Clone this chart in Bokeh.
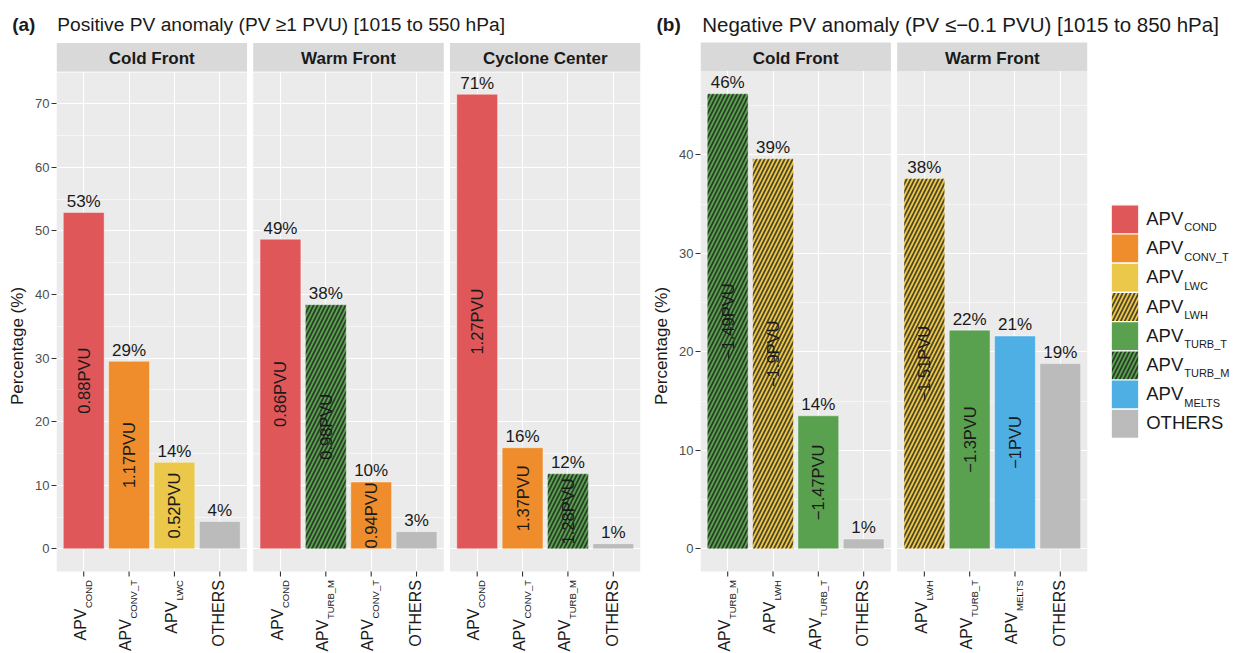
import math
from bokeh.plotting import figure
from bokeh.layouts import row, column
from bokeh.models import (FactorRange, Range1d, ColumnDataSource, FixedTicker,
                          Grid, CategoricalTicker)
from bokeh.core.properties import value
from bokeh.embed import file_html
from bokeh.resources import INLINE

# ---------------------------------------------------------------- data
a_tag = "(a)"
a_title = "Positive PV anomaly (PV \u22651 PVU) [1015 to 550 hPa]"
a_facets = ["Cold Front", "Warm Front", "Cyclone Center"]
a_sources = [["COND", "CONV_T", "LWC", "OTHERS"],
             ["COND", "TURB_M", "CONV_T", "OTHERS"],
             ["COND", "CONV_T", "TURB_M", "OTHERS"]]
a_percent = [[52.9, 29.5, 13.6, 4.3],
             [48.7, 38.4, 10.5, 2.7],
             [71.5, 15.9, 11.8, 0.8]]
a_percent_labels = [["53%", "29%", "14%", "4%"],
                    ["49%", "38%", "10%", "3%"],
                    ["71%", "16%", "12%", "1%"]]
a_pvu = [["0.88PVU", "1.17PVU", "0.52PVU", ""],
         ["0.86PVU", "0.98PVU", "0.94PVU", ""],
         ["1.27PVU", "1.37PVU", "1.28PVU", ""]]
a_yticks = [0, 10, 20, 30, 40, 50, 60, 70]

b_tag = "(b)"
b_title = "Negative PV anomaly (PV \u2264\u22120.1 PVU) [1015 to 850 hPa]"
b_facets = ["Cold Front", "Warm Front"]
b_sources = [["TURB_M", "LWH", "TURB_T", "OTHERS"],
             ["LWH", "TURB_T", "MELTS", "OTHERS"]]
b_percent = [[46.2, 39.6, 13.5, 1.0],
             [37.6, 22.2, 21.6, 18.8]]
b_percent_labels = [["46%", "39%", "14%", "1%"],
                    ["38%", "22%", "21%", "19%"]]
b_pvu = [["\u22121.49PVU", "\u22121.9PVU", "\u22121.47PVU", ""],
         ["\u22121.51PVU", "\u22121.3PVU", "\u22121PVU", ""]]
b_yticks = [0, 10, 20, 30, 40]

y_axis_title = "Percentage (%)"
legend_sources = ["COND", "CONV_T", "LWC", "LWH", "TURB_T", "TURB_M", "MELTS", "OTHERS"]

# ---------------------------------------------------------------- style
FONT = "Liberation Sans"
COLORS = {"COND": "#E05759", "CONV_T": "#EF8C2C", "LWC": "#EBC74A",
          "LWH": "#EBC74A", "TURB_T": "#59A14F", "TURB_M": "#59A14F",
          "MELTS": "#4EAFE5", "OTHERS": "#BBBBBB"}
HATCHED = {"LWH", "TURB_M"}
PANEL_BG = "#EBEBEB"
STRIP_BG = "#D9D9D9"
TXT = "#1A1A1A"
HATCH = dict(hatch_color="#1A1A1A", hatch_alpha=0.75, hatch_scale=8,
             hatch_weight=1.7)

TOTAL_W, TOTAL_H = 1244, 653
TH = 38                       # height of the title strip
PH = TOTAL_H - TH             # height of the panel figures
ZERO = 548.3 - TH             # screen row of value 0 inside panel figures
STRIP_PX = 28.5
GAP = 8.5                     # panel bottom -> top of x labels
SUB_SIZE = 9.5
XLAB_SIZE = 16

WA, BLA, BRA = 646, 56, 6     # panel (a) figure width / borders
WB, BLB, BRB = 449, 54, 8     # panel (b)
WL = TOTAL_W - WA - WB        # legend

ARIAL = {"A": .667, "B": .667, "C": .722, "D": .722, "E": .667, "F": .611,
         "G": .778, "H": .722, "I": .278, "J": .5, "K": .667, "L": .556,
         "M": .833, "N": .722, "O": .778, "P": .667, "Q": .778, "R": .722,
         "S": .667, "T": .611, "U": .722, "V": .667, "W": .944, "X": .667,
         "Y": .667, "Z": .611, "_": .556}


def text_w(s, size):
    return sum(ARIAL.get(c, .6) for c in s) * size


def hatch_of(s):
    return "/" if s in HATCHED else "blank"


def blank_fig(w, h, xr, yr):
    p = figure(width=w, height=h, x_range=xr, y_range=yr,
               x_axis_location=None, y_axis_location=None,
               title_location=None, toolbar_location=None,
               output_backend="svg", min_border_left=0, min_border_right=0,
               min_border_top=0, min_border_bottom=0,
               background_fill_color="white", border_fill_color="white",
               outline_line_color=None)
    p.xgrid.visible = False
    p.ygrid.visible = False
    return p


def make_panel(facets, sources, pct, pct_labels, pvu, yticks,
               pxu_y, group_pad, fig_w, border_l, border_r):
    px = 1.0 / pxu_y          # one screen pixel in data units
    factors = [(f, s) for f, ss in zip(facets, sources) for s in ss]
    x_range = FactorRange(factors=factors, factor_padding=0,
                          group_padding=group_pad, range_padding=0.1,
                          range_padding_units="absolute")
    y_range = Range1d(-(PH - ZERO) * px, ZERO * px)
    p = figure(width=fig_w, height=PH, x_range=x_range, y_range=y_range,
               x_axis_location=None, y_axis_location="left",
               title_location=None,
               toolbar_location=None, output_backend="svg",
               min_border_left=border_l, min_border_right=border_r,
               min_border_top=0, min_border_bottom=0,
               background_fill_color="white", border_fill_color="white",
               outline_line_color=None)
    ymax = max(max(v) for v in pct)
    lo, hi = -0.05 * ymax, 1.05 * ymax

    # panel backgrounds and strips
    bg = ColumnDataSource(dict(
        left=[(f, ss[0], -0.6) for f, ss in zip(facets, sources)],
        right=[(f, ss[-1], 0.6) for f, ss in zip(facets, sources)],
        mid=[(f, ss[1], 0.5) for f, ss in zip(facets, sources)],
        name=facets))
    p.quad(left="left", right="right", bottom=lo, top=hi, source=bg,
           fill_color=PANEL_BG, line_color=None, level="image")
    p.quad(left="left", right="right", bottom=hi, top=hi + STRIP_PX * px,
           source=bg, fill_color=STRIP_BG, line_color=None)
    p.text(x="mid", y=hi + 12.6 * px, text="name", source=bg,
           text_align="center", text_baseline="middle",
           text_font=value(FONT), text_font_style="bold",
           text_font_size="17px", text_color=TXT)

    # grids
    p.xgrid.visible = False
    p.add_layout(Grid(dimension=0, ticker=CategoricalTicker(),
                      grid_line_color="white", grid_line_width=1.1))
    p.yaxis.ticker = FixedTicker(ticks=yticks,
                                 minor_ticks=[t + 5 for t in yticks])
    p.ygrid.grid_line_color = "white"
    p.ygrid.grid_line_width = 1.1
    p.ygrid.minor_grid_line_color = "white"
    p.ygrid.minor_grid_line_width = 0.55

    # y axis
    ax = p.yaxis[0]
    ax.axis_label = y_axis_title
    ax.axis_label_text_font = FONT
    ax.axis_label_text_font_size = "17px"
    ax.axis_label_text_font_style = "normal"
    ax.axis_label_text_color = TXT
    ax.axis_label_standoff = 5
    ax.major_label_text_font = FONT
    ax.major_label_text_font_size = "13px"
    ax.major_label_text_color = "#4D4D4D"
    ax.major_label_standoff = 2
    ax.major_tick_out = 5
    ax.major_tick_in = 0
    ax.major_tick_line_color = "#333333"
    ax.major_tick_line_width = 1.1
    ax.minor_tick_line_color = None
    ax.axis_line_color = None

    # bars
    xs, tops, cols, hatches, plabs, pvus, mids, ptop = [], [], [], [], [], [], [], []
    for f, ss, vv, ll, pp in zip(facets, sources, pct, pct_labels, pvu):
        for s, v, l, u in zip(ss, vv, ll, pp):
            xs.append((f, s)); tops.append(v); cols.append(COLORS[s])
            hatches.append(hatch_of(s)); plabs.append(l); pvus.append(u)
            mids.append(v / 2); ptop.append(v + 11.1 * px)
    src = ColumnDataSource(dict(x=xs, top=tops, color=cols, hatch=hatches,
                                plab=plabs, pvu=pvus, mid=mids, ptop=ptop))
    p.vbar(x="x", top="top", bottom=0, width=0.9, source=src,
           fill_color="color", line_color="white", line_width=0.6,
           line_alpha=0.7, hatch_pattern="hatch", **HATCH)
    p.text(x="x", y="ptop", text="plab", source=src,
           text_align="center", text_baseline="middle",
           text_font=value(FONT), text_font_size="17px", text_color=TXT)
    p.text(x="x", y="mid", text="pvu", source=src, angle=math.pi / 2,
           text_align="center", text_baseline="middle",
           text_font=value(FONT), text_font_size="16.5px", text_color=TXT)

    # x ticks and labels
    p.segment(x0="x", y0=lo, x1="x", y1=lo - 5 * px, source=src,
              line_color="#333333", line_width=1.1)
    mains, subs, my, sy, mxo, sxo = [], [], [], [], [], []
    for x in xs:
        s = x[1]
        if s == "OTHERS":
            mains.append("OTHERS"); subs.append("")
            my.append(lo - GAP * px); mxo.append(-1.0)
        else:
            mains.append("APV"); subs.append(s)
            my.append(lo - (GAP + text_w(s, SUB_SIZE) + 0.5) * px)
            mxo.append(-3.3)
        sy.append(lo - GAP * px); sxo.append(4.7)
    lab = ColumnDataSource(dict(x=xs, main=mains, sub=subs, my=my, sy=sy,
                                mxo=mxo, sxo=sxo))
    p.text(x="x", y="my", text="main", source=lab, angle=math.pi / 2,
           x_offset="mxo", text_align="right",
           text_baseline="middle", text_font=value(FONT),
           text_font_size=f"{XLAB_SIZE}px", text_color=TXT)
    p.text(x="x", y="sy", text="sub", source=lab, angle=math.pi / 2,
           x_offset="sxo", text_align="right",
           text_baseline="middle", text_font=value(FONT),
           text_font_size=f"{SUB_SIZE}px", text_color=TXT)
    return p


# ---------------------------------------------------------------- titles
pt = blank_fig(TOTAL_W, TH, Range1d(0, TOTAL_W), Range1d(0, TH))
MID = TH - 24.2                   # title centre line, counted from the bottom
pt.text(x=[11.7, 656.0], y=[MID, MID], text=[a_tag, b_tag],
        text_align="left", text_baseline="middle",
        text_font=value(FONT), text_font_style="bold",
        text_font_size="19px", text_color=TXT)
pt.text(x=[56.7], y=[MID], text=[a_title], text_align="left",
        text_baseline="middle", text_font=value(FONT),
        text_font_size="19.2px", text_color=TXT)
pt.text(x=[701.7], y=[MID], text=[b_title], text_align="left",
        text_baseline="middle", text_font=value(FONT),
        text_font_size="20.5px", text_color=TXT)

# ---------------------------------------------------------------- panels
pa = make_panel(a_facets, a_sources, a_percent, a_percent_labels, a_pvu,
                a_yticks, 6.357, 0.337, WA, BLA, BRA)
pb = make_panel(b_facets, b_sources, b_percent, b_percent_labels, b_pvu,
                b_yticks, 9.85, 0.339, WB, BLB, BRB)

# ---------------------------------------------------------------- legend
ROW_PX = 29.2
LEG_TOP = 204.3 - TH              # top of first key
n_leg = len(legend_sources)
rows_below = (PH - LEG_TOP - n_leg * ROW_PX) / ROW_PX
rows_above = LEG_TOP / ROW_PX
pl = blank_fig(WL, PH, Range1d(0, WL),
               Range1d(-rows_below, n_leg + rows_above))
rows = [n_leg - i - 0.5 for i in range(n_leg)]
lsrc = ColumnDataSource(dict(
    name=legend_sources,
    row=rows,
    mrow=[r + 1.0 / ROW_PX for r in rows],
    srow=[r - 7.9 / ROW_PX for r in rows],
    color=[COLORS[s] for s in legend_sources],
    hatch=[hatch_of(s) for s in legend_sources],
    main=["OTHERS" if s == "OTHERS" else "APV" for s in legend_sources],
    sub=["" if s == "OTHERS" else s for s in legend_sources]))
pl.rect(x=29.5, y="row", width=27.6, height=1, source=lsrc,
        fill_color="color", line_color="white", line_width=1.2,
        hatch_pattern="hatch", **HATCH)
pl.text(x=50.7, y="mrow", text="main", source=lsrc,
        text_align="left", text_baseline="middle",
        text_font=value(FONT), text_font_size="18.5px", text_color=TXT)
pl.text(x=50.7 + text_w("APV", 18.5) + 1, y="srow", text="sub", source=lsrc,
        text_align="left", text_baseline="middle",
        text_font=value(FONT), text_font_size="11px", text_color=TXT)

layout = column(pt, row(pa, pb, pl))
open("out.html", "w").write(file_html(layout, INLINE))
